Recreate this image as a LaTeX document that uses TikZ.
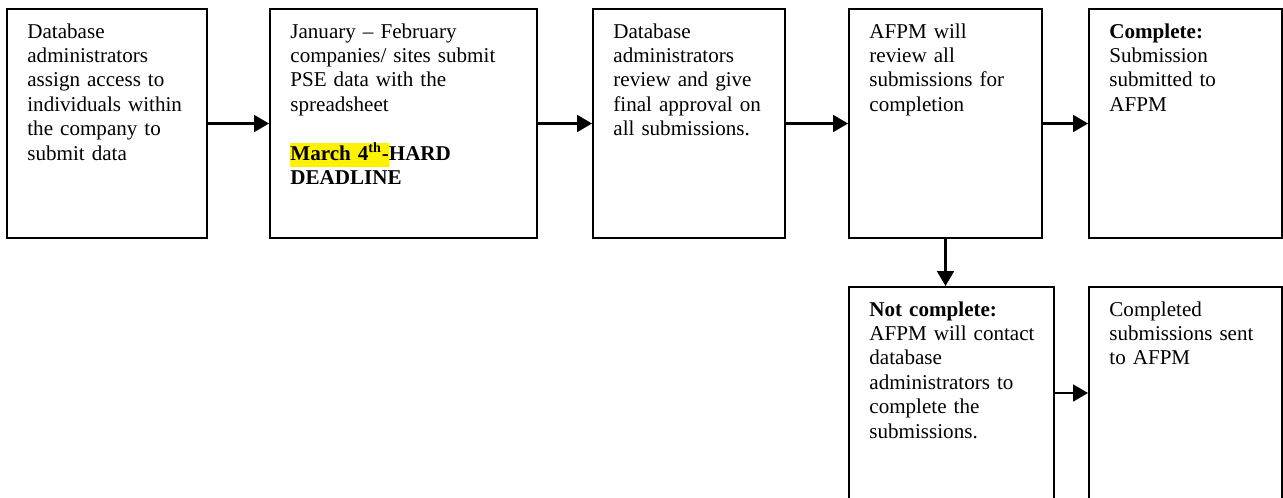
\documentclass[tikz,border=0pt]{standalone}
\usepackage{fontspec}
\setmainfont{Liberation Serif}
\usetikzlibrary{fit}
\usetikzlibrary{arrows.meta}
\tikzstyle{stepbox} = [rectangle, draw=black, line width=1.1pt, inner sep=0pt]
\tikzstyle{steptext} = [anchor=base west, inner sep=0pt, text width=6cm,
align=left, font=\fontsize{12}{13.9}\selectfont]
\tikzset{>={Triangle[length=8.5pt,width=9.5pt]}}
\newcommand{\flow}[2]{ %
  % Arrow from node #1 to node #2.
  \draw[->, line width=1.5pt] (#1) -- (#2) ;%
}
\newcommand{\hilite}[1]{{\setlength{\fboxsep}{0pt}\colorbox{yellow}{\strut #1}}}

\begin{document}
\begin{tikzpicture}[x=0.02cm, y=-0.02cm]
  \useasboundingbox (0,0) rectangle (1283,497);

  \node[stepbox, fit={(7,9) (207,238)}] (b1) {};
  \node[stepbox, fit={(270,9) (537,238)}] (b2) {};
  \node[stepbox, fit={(593,9) (785,238)}] (b3) {};
  \node[stepbox, fit={(849,9) (1042,238)}] (b4) {};
  \node[stepbox, fit={(1089,9) (1282,238)}] (b5) {};
  \node[stepbox, fit={(849,287) (1054,499)}] (b6) {};
  \node[stepbox, fit={(1089,287) (1282,499)}] (b7) {};

  \node[steptext] (t1) at ([shift={(21,30)}]b1.north west)
    {Database\\administrators\\assign access to\\individuals within\\the company to\\submit data};
  \node[steptext] (t2) at ([shift={(21,30)}]b2.north west)
    {January -- February\\companies/ sites submit\\PSE data with the\\spreadsheet\\[13.9pt]
     \textbf{\hilite{March 4\textsuperscript{th}-}HARD}\\\textbf{DEADLINE}};
  \node[steptext] (t3) at ([shift={(21,30)}]b3.north west)
    {Database\\administrators\\review and give\\final approval on\\all submissions.};
  \node[steptext] (t4) at ([shift={(21,30)}]b4.north west)
    {AFPM will\\review all\\submissions for\\completion};
  \node[steptext] (t5) at ([shift={(21,30)}]b5.north west)
    {\textbf{Complete:}\\Submission\\submitted to\\AFPM};
  \node[steptext] (t6) at ([shift={(21,30)}]b6.north west)
    {\textbf{Not complete:}\\AFPM will contact\\database\\administrators to\\complete the\\submissions.};
  \node[steptext] (t7) at ([shift={(21,30)}]b7.north west)
    {Completed\\submissions sent\\to AFPM};

  \flow{b1.east}{b2.west}
  \flow{b2.east}{b3.west}
  \flow{b3.east}{b4.west}
  \flow{b4.east}{b5.west}
  \flow{b4.south}{b4.south |- b6.north}
  \flow{b6.east}{b7.west}
\end{tikzpicture}
\end{document}
